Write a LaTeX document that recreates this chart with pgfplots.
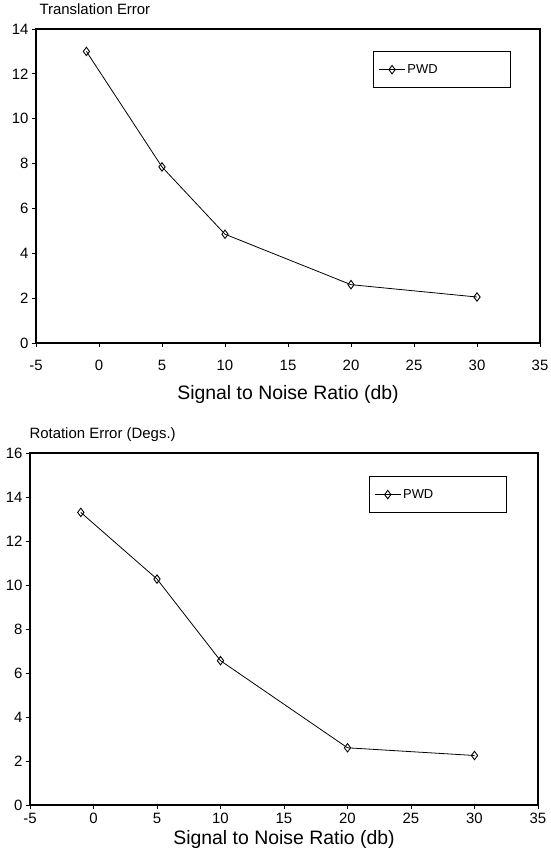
\documentclass[border=0pt]{standalone}
\usepackage{fontspec}
\setmainfont{Liberation Sans}
\usepackage{pgfplots}
\pgfplotsset{compat=1.18}
\pgfplotsset{
  pwd/.style={black, line width=0.8pt, mark=diamond, mark size=4.2bp, mark options={solid, fill=white, line width=0.9pt}},
  myaxis/.style={
    scale only axis,
    anchor=south west,
    xmin=-5, xmax=35,
    xtick={-5,0,...,35},
    axis line style={line width=1.1pt},
    tick style={line width=0.8pt, black},
    tick align=outside,
    major tick length=4bp,
    xtick pos=bottom, ytick pos=left,
    /pgf/number format/assume math mode=true,
    tick label style={font=\fontsize{15}{17}\selectfont},
    xlabel style={font=\fontsize{19.5}{22}\selectfont, at={(axis description cs:0.5,0)}, anchor=base},
    xlabel={Signal to Noise Ratio (db)},
    title style={font=\fontsize{15}{17}\selectfont, at={(0,1)}, anchor=base west, yshift=9bp},
    legend style={draw=black, line width=1pt, inner xsep=5bp, inner ysep=11bp, anchor=north west, font=\fontsize{13}{15}\selectfont},
    legend cell align=left,
    legend image code/.code={\draw[mark repeat=2,mark phase=2,##1] plot coordinates {(0bp,0bp) (13bp,0bp) (26bp,0bp)};},
  }
}
\begin{document}
\begin{tikzpicture}
\path[use as bounding box] (0bp,0bp) rectangle (551bp,867bp);
\begin{axis}[myaxis,
  at={(36bp,524bp)}, width=504bp, height=314bp,
  ymin=0, ymax=14, ytick={0,2,...,14},
  xticklabel style={yshift=-10bp},
  xlabel style={yshift=-57bp},
  title={Translation Error},
  legend style={at={(rel axis cs:0.669,0.93)}},
]
\addplot[pwd] coordinates {(-1,13.0) (5,7.85) (10,4.85) (20,2.6) (30,2.05)};
\addlegendentry{\makebox[96bp][l]{PWD}}
\end{axis}
\begin{axis}[myaxis,
  at={(30bp,62bp)}, width=508bp, height=352bp,
  ymin=0, ymax=16, ytick={0,2,...,16},
  xticklabel style={yshift=-1bp},
  xlabel style={yshift=-39bp},
  title={Rotation Error (Degs.)},
  title style={xshift=-4bp},
  legend style={at={(rel axis cs:0.667,0.935)}},
]
\addplot[pwd] coordinates {(-1,13.3) (5,10.27) (10,6.56) (20,2.6) (30,2.25)};
\addlegendentry{\makebox[96bp][l]{PWD}}
\end{axis}
\end{tikzpicture}
\end{document}
